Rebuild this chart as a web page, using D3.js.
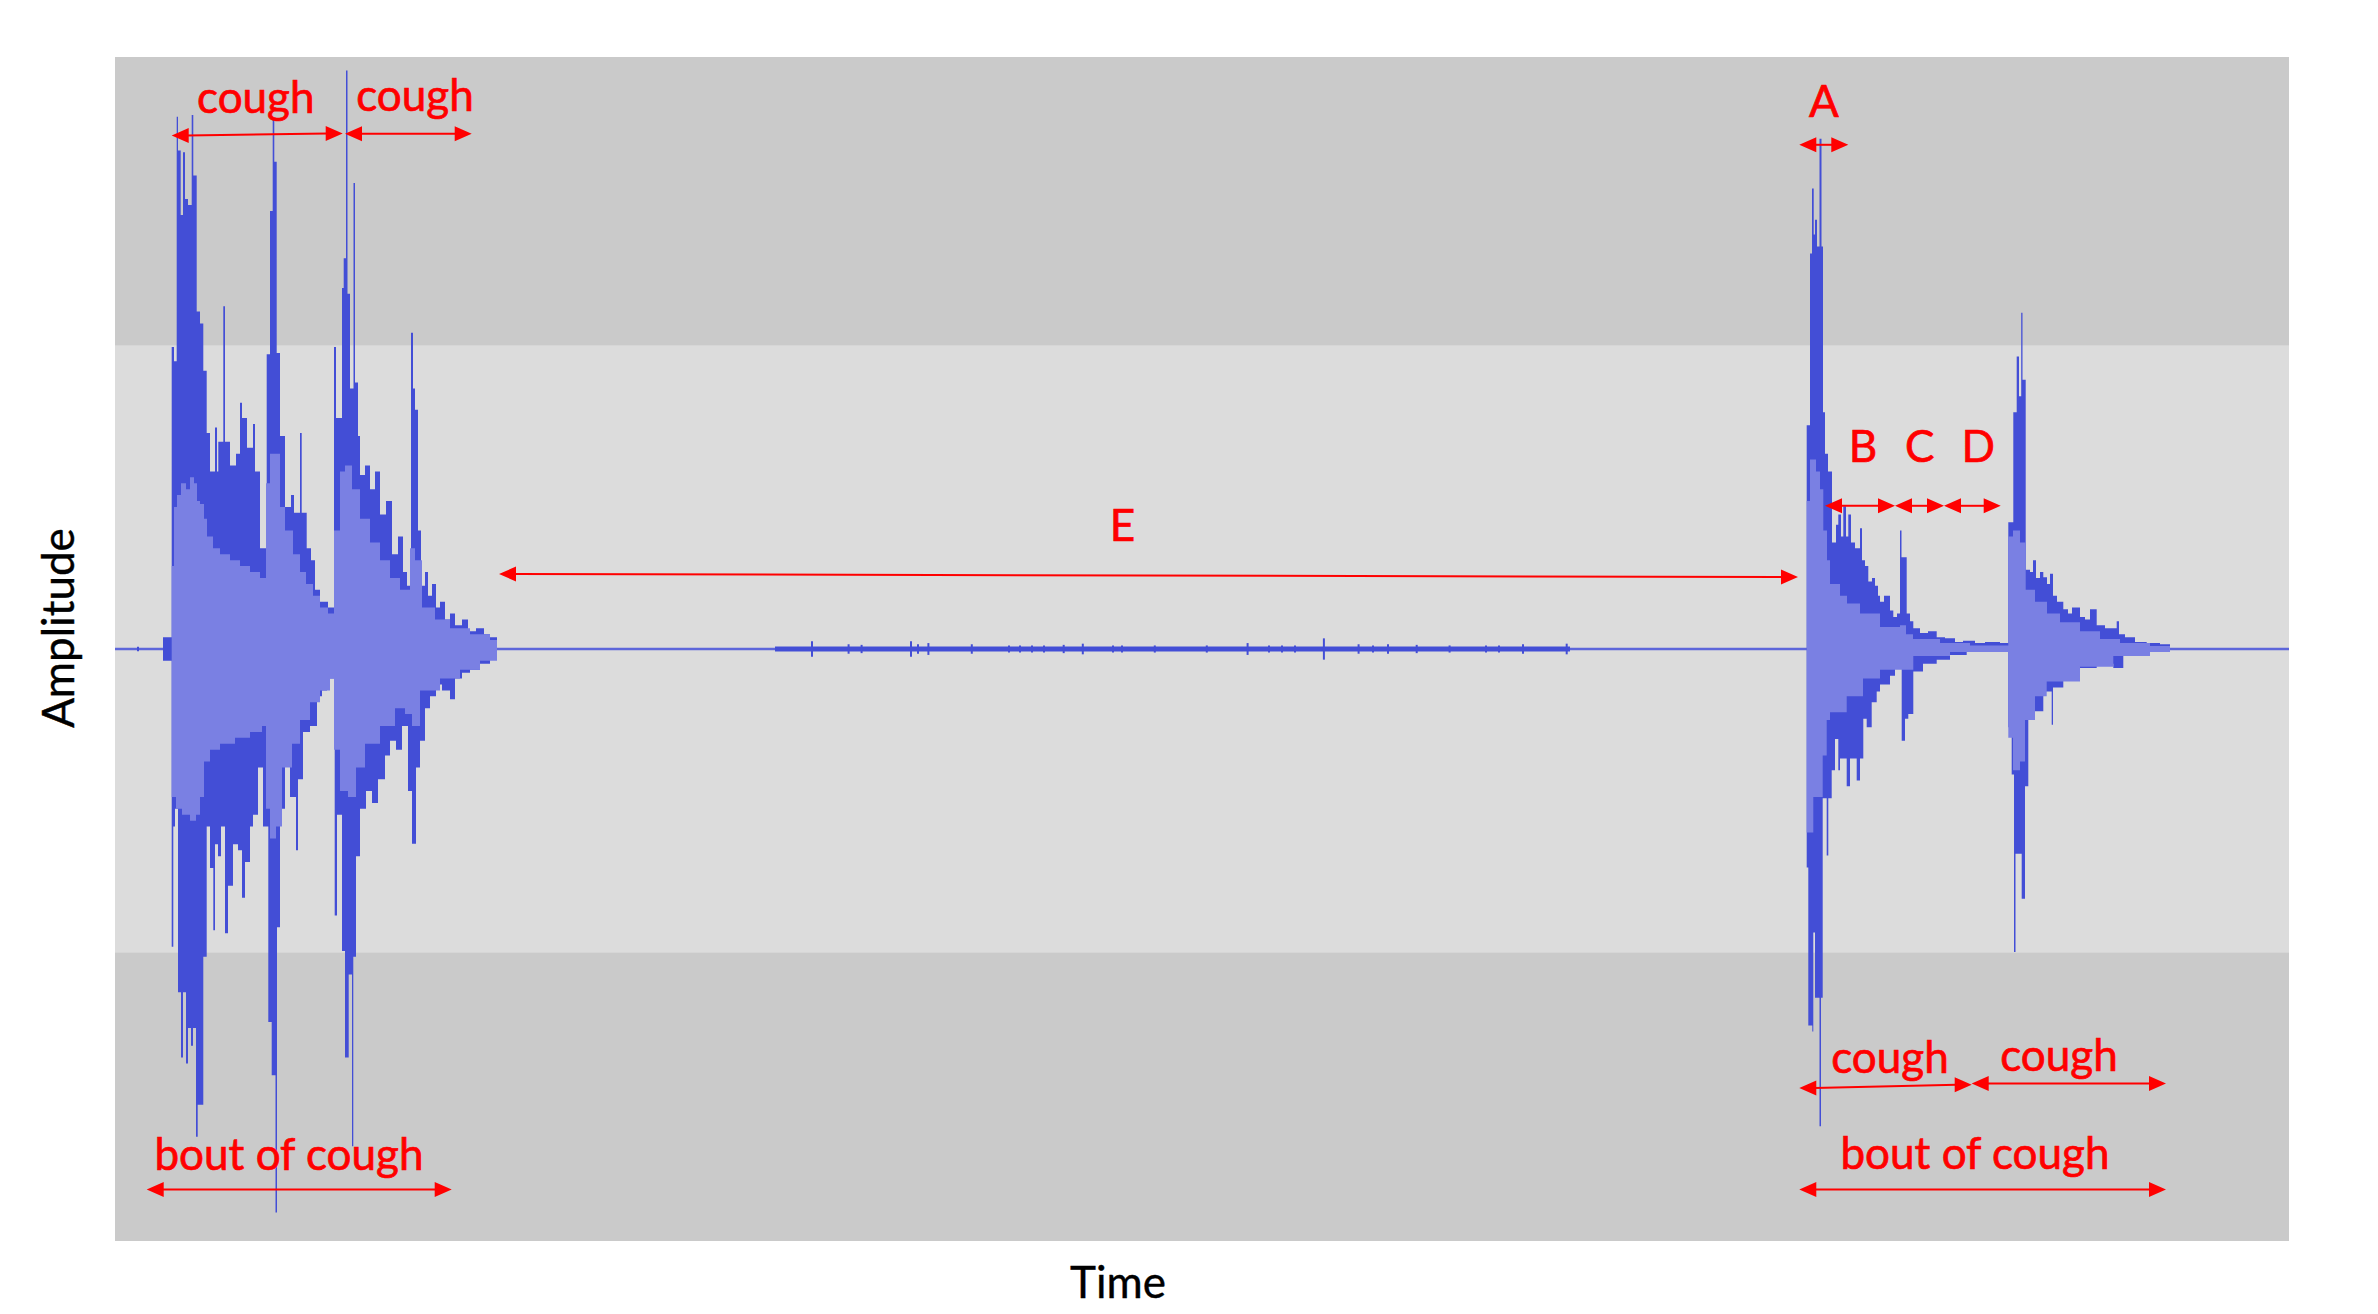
<!DOCTYPE html>
<html>
<head>
<meta charset="utf-8">
<script src="https://cdn.jsdelivr.net/npm/d3@7"></script>
<style>
  body { margin: 0; background: #fff; }
  svg { display: block; }
  text { font-family: Lato, "Open Sans", sans-serif; }
</style>
</head>
<body>
<div id="mainChart"></div>
<script>
// time in ms, amplitude normalised to [-1, 1]
const bandLevels = [-0.513, 0.513];
const baselineSpan = [0, 21740];
const noiseSpan = [6600, 14550];
const noiseLevel = 0.0042;

// outer (peak) envelope, [ms, amplitude], step-after
const boutOnePeakHi = [
  [480,0.02],[567,0.51],[590,0.486],[617,0.899],[630,0.842],[657,0.733],[680,0.839],[700,0.76],[730,0.75],
  [767,0.902],[783,0.80],[817,0.57],[850,0.55],[883,0.47],[917,0.365],[950,0.30],[1000,0.374],[1020,0.30],
  [1033,0.35],[1083,0.579],[1100,0.35],[1150,0.31],[1210,0.33],[1250,0.416],[1270,0.39],[1320,0.34],
  [1380,0.38],[1400,0.30],[1450,0.17],[1517,0.498],[1550,0.74],[1577,0.895],[1593,0.823],[1617,0.50],
  [1650,0.36],[1700,0.24],[1760,0.26],[1790,0.23],[1850,0.365],[1867,0.23],[1917,0.17],[1960,0.15],
  [2000,0.10],[2050,0.08],[2130,0.07],[2190,0.51],[2210,0.39],[2270,0.61],[2287,0.66],[2310,0.977],
  [2325,0.6],[2350,0.44],[2385,0.787],[2400,0.45],[2430,0.36],[2450,0.294],[2500,0.31],[2550,0.27],
  [2600,0.30],[2650,0.227],[2710,0.25],[2770,0.16],[2830,0.19],[2880,0.13],[2920,0.107],[2960,0.534],
  [2980,0.44],[3000,0.404],[3030,0.20],[3060,0.107],[3100,0.13],[3130,0.09],[3170,0.11],[3210,0.07],
  [3250,0.08],[3300,0.05],[3350,0.06],[3400,0.04],[3470,0.05],[3530,0.03],[3610,0.035],[3690,0.025],
  [3750,0.02],[3820,0]
];
const boutOnePeakLo = [
  [480,0.02],[567,0.503],[583,0.30],[600,0.27],[630,0.58],[660,0.69],[680,0.58],[710,0.70],[730,0.64],
  [760,0.67],[780,0.64],[810,0.824],[827,0.77],[883,0.52],[917,0.30],[950,0.37],[983,0.475],[1000,0.33],
  [1030,0.35],[1060,0.30],[1100,0.48],[1130,0.40],[1180,0.33],[1230,0.34],[1270,0.42],[1300,0.36],
  [1350,0.30],[1380,0.28],[1430,0.20],[1480,0.30],[1533,0.63],[1567,0.72],[1605,0.952],[1620,0.47],
  [1650,0.27],[1700,0.18],[1750,0.25],[1810,0.34],[1830,0.22],[1880,0.14],[1950,0.13],[2020,0.08],
  [2070,0.07],[2120,0.05],[2197,0.45],[2220,0.28],[2270,0.51],[2300,0.69],[2337,0.55],[2370,0.84],
  [2383,0.52],[2410,0.35],[2450,0.27],[2510,0.24],[2570,0.26],[2630,0.22],[2700,0.18],[2750,0.155],
  [2810,0.17],[2870,0.13],[2930,0.24],[2970,0.329],[3010,0.20],[3050,0.155],[3100,0.10],[3150,0.08],
  [3210,0.06],[3270,0.07],[3350,0.085],[3400,0.05],[3470,0.04],[3550,0.035],[3650,0.025],[3750,0.015],
  [3820,0]
];
const boutTwoPeakHi = [
  [16917,0.378],[16950,0.668],[16970,0.778],[16987,0.70],[17000,0.725],[17020,0.68],[17045,0.862],
  [17065,0.68],[17080,0.40],[17100,0.33],[17130,0.30],[17170,0.18],[17210,0.21],[17233,0.227],
  [17260,0.19],[17283,0.241],[17310,0.19],[17333,0.227],[17360,0.18],[17400,0.17],[17450,0.204],
  [17470,0.15],[17500,0.14],[17533,0.114],[17570,0.12],[17600,0.107],[17630,0.09],[17650,0.08],
  [17690,0.09],[17750,0.065],[17783,0.054],[17820,0.06],[17850,0.20],[17865,0.155],[17917,0.06],
  [17950,0.047],[17983,0.035],[18050,0.027],[18130,0.03],[18217,0.02],[18300,0.018],[18400,0.012],
  [18480,0.014],[18600,0.01],[18700,0.012],[18850,0.01],[18933,0.214],[18983,0.40],[19017,0.494],
  [19040,0.427],[19062,0.568],[19075,0.455],[19107,0.134],[19150,0.13],[19180,0.15],[19210,0.12],
  [19250,0.13],[19283,0.121],[19320,0.11],[19350,0.127],[19380,0.09],[19420,0.08],[19483,0.067],
  [19530,0.06],[19570,0.07],[19650,0.054],[19700,0.05],[19750,0.067],[19817,0.04],[19900,0.035],
  [20017,0.047],[20040,0.025],[20100,0.02],[20200,0.012],[20317,0.01],[20450,0.008],[20550,0]
];
const boutTwoPeakLo = [
  [16917,0.369],[16933,0.636],[16973,0.646],[16983,0.479],[17000,0.589],[17045,0.806],[17060,0.589],
  [17077,0.252],[17117,0.349],[17133,0.252],[17167,0.205],[17200,0.152],[17233,0.205],[17250,0.185],
  [17317,0.232],[17350,0.185],[17417,0.222],[17450,0.185],[17483,0.118],[17517,0.132],[17567,0.09],
  [17617,0.072],[17650,0.06],[17750,0.045],[17800,0.032],[17867,0.155],[17900,0.118],[17933,0.11],
  [17983,0.038],[18080,0.025],[18217,0.018],[18350,0.01],[18517,0.005],[18933,0.132],[18967,0.212],
  [18990,0.512],[19005,0.346],[19067,0.422],[19100,0.232],[19133,0.118],[19200,0.105],[19283,0.072],
  [19367,0.128],[19380,0.065],[19483,0.052],[19550,0.045],[19650,0.032],[19817,0.025],[19983,0.032],
  [20083,0.012],[20317,0.005],[20550,0]
];

// inner (rms) envelope
const boutOneRmsHi = [
  [567,0.14],[590,0.24],[620,0.26],[660,0.28],[710,0.27],[750,0.29],[790,0.28],[820,0.25],[850,0.245],
  [890,0.22],[920,0.19],[980,0.17],[1050,0.16],[1150,0.15],[1250,0.14],[1350,0.13],[1450,0.12],
  [1510,0.28],[1550,0.33],[1650,0.24],[1700,0.20],[1780,0.16],[1850,0.13],[1910,0.11],[1980,0.09],
  [2050,0.07],[2130,0.06],[2190,0.20],[2250,0.30],[2300,0.31],[2370,0.27],[2450,0.22],[2550,0.18],
  [2650,0.15],[2750,0.12],[2850,0.10],[2950,0.17],[3000,0.15],[3070,0.07],[3200,0.05],[3350,0.035],
  [3550,0.025],[3750,0.015],[3820,0]
];
const boutOneRmsLo = [
  [567,0.25],[610,0.27],[670,0.28],[750,0.29],[810,0.28],[850,0.25],[890,0.19],[950,0.17],[1050,0.16],
  [1200,0.15],[1350,0.14],[1470,0.13],[1510,0.27],[1550,0.32],[1610,0.30],[1670,0.20],[1770,0.16],
  [1850,0.12],[1950,0.09],[2050,0.07],[2150,0.05],[2190,0.17],[2250,0.24],[2330,0.25],[2410,0.20],
  [2500,0.16],[2650,0.13],[2800,0.10],[2900,0.11],[2970,0.13],[3050,0.07],[3250,0.05],[3450,0.035],
  [3650,0.02],[3820,0]
];
const boutTwoRmsHi = [
  [16917,0.25],[16950,0.32],[17010,0.30],[17050,0.27],[17083,0.20],[17120,0.15],[17150,0.11],
  [17250,0.09],[17320,0.077],[17450,0.06],[17650,0.037],[17850,0.04],[17910,0.025],[17980,0.017],
  [18250,0.01],[18550,0.006],[18933,0.19],[18980,0.20],[19050,0.18],[19107,0.10],[19200,0.08],
  [19320,0.06],[19450,0.045],[19650,0.03],[19850,0.017],[20050,0.01],[20350,0.005],[20550,0]
];
const boutTwoRmsLo = [
  [16917,0.31],[16983,0.25],[17077,0.18],[17117,0.12],[17150,0.107],[17317,0.08],[17480,0.05],
  [17650,0.035],[17983,0.012],[18350,0.005],[18933,0.15],[18980,0.205],[19050,0.19],[19100,0.12],
  [19200,0.08],[19317,0.055],[19650,0.03],[19983,0.012],[20350,0.005],[20550,0]
];

// short clicks on the quiet part, [ms, amplitude]
const noiseTicks = [
  [230,0.004],[6970,0.013],[7336,0.008],[7466,0.007],[7960,0.013],[8030,0.008],[8134,0.010],[8568,0.008],
  [8940,0.006],[9050,0.006],[9170,0.006],[9290,0.006],[9487,0.007],[9678,0.009],[9980,0.006],
  [10070,0.006],[10398,0.006],[10918,0.006],[11326,0.010],[11540,0.006],[11670,0.006],[11800,0.006],
  [12089,0.018],[12436,0.008],[12580,0.006],[12730,0.008],[13017,0.007],[13346,0.006],[13710,0.006],
  [13840,0.006],[14080,0.008],[14517,0.009]
];

// annotation spans: [start ms, level, end ms, level]
const spanArrows = [
  [567,0.8676,2277,0.8706],
  [2300,0.8704,3567,0.8704],
  [317,-0.9132,3367,-0.9132],
  [16843,0.8517,17333,0.8517],
  [17100,0.2419,17800,0.2419],
  [17800,0.2419,18290,0.2419],
  [18290,0.2419,18857,0.2419],
  [3840,0.1267,16830,0.1216],
  [16843,-0.7416,18567,-0.7361],
  [18567,-0.7341,20510,-0.7341],
  [16843,-0.9132,20510,-0.9132]
];
const labelText = ['cough','cough','bout of cough','A','B','C','D','E','cough','cough','bout of cough'];
const labelTime = [1408,3000,1740,17090,17480,18047,18633,10075,17750,19440,18600];
const labelLevel = [0.9054,0.9088,-0.880,0.8986,0.3154,0.3154,0.3154,0.1829,-0.7162,-0.7128,-0.8779];

const CHART_SIZE = { width: 2378, height: 1314 };
const MARGIN = { top: 57, right: 89, bottom: 73, left: 115 };
const DARK = '#434ed6';
const LIGHT = '#7a80e3';
const RED = '#ff0000';

const x = d3.scaleLinear()
  .domain(baselineSpan)
  .range([MARGIN.left, CHART_SIZE.width - MARGIN.right]);
const y = d3.scaleLinear()
  .domain([-1, 1])
  .range([CHART_SIZE.height - MARGIN.bottom, MARGIN.top]);

const svg = d3.select('#mainChart')
  .append('svg')
  .attr('width', CHART_SIZE.width)
  .attr('height', CHART_SIZE.height);

// background bands
svg.append('rect')
  .attr('x', x(baselineSpan[0]))
  .attr('y', y(1))
  .attr('width', x(baselineSpan[1]) - x(baselineSpan[0]))
  .attr('height', y(-1) - y(1))
  .attr('fill', '#cacaca');
svg.append('rect')
  .attr('x', x(baselineSpan[0]))
  .attr('y', y(bandLevels[1]))
  .attr('width', x(baselineSpan[1]) - x(baselineSpan[0]))
  .attr('height', y(bandLevels[0]) - y(bandLevels[1]))
  .attr('fill', '#dcdcdc');

const wave = svg.append('g');

wave.append('line')
  .attr('x1', x(baselineSpan[0])).attr('x2', x(baselineSpan[1]))
  .attr('y1', y(0)).attr('y2', y(0))
  .attr('stroke', '#5d66da')
  .attr('stroke-width', 2.6);

wave.append('rect')
  .attr('x', x(noiseSpan[0]))
  .attr('y', y(noiseLevel))
  .attr('width', x(noiseSpan[1]) - x(noiseSpan[0]))
  .attr('height', y(-noiseLevel) - y(noiseLevel))
  .attr('fill', DARK);

wave.selectAll('line.tick')
  .data(noiseTicks)
  .join('line')
  .attr('class', 'tick')
  .attr('x1', d => x(d[0])).attr('x2', d => x(d[0]))
  .attr('y1', d => y(d[1])).attr('y2', d => y(-d[1]))
  .attr('stroke', DARK)
  .attr('stroke-width', 2);

const areaHi = d3.area()
  .curve(d3.curveStepAfter)
  .x(d => x(d[0]))
  .y0(y(0))
  .y1(d => y(d[1]));
const areaLo = d3.area()
  .curve(d3.curveStepAfter)
  .x(d => x(d[0]))
  .y0(y(0))
  .y1(d => y(-d[1]));

[boutOnePeakHi, boutTwoPeakHi].forEach(s => {
  wave.append('path').attr('d', areaHi(s)).attr('fill', DARK);
});
[boutOnePeakLo, boutTwoPeakLo].forEach(s => {
  wave.append('path').attr('d', areaLo(s)).attr('fill', DARK);
});
[boutOneRmsHi, boutTwoRmsHi].forEach(s => {
  wave.append('path').attr('d', areaHi(s)).attr('fill', LIGHT);
});
[boutOneRmsLo, boutTwoRmsLo].forEach(s => {
  wave.append('path').attr('d', areaLo(s)).attr('fill', LIGHT);
});

// double headed arrows
const HEAD_LEN = 17, HEAD_HALF = 7.5;
const notes = svg.append('g');
spanArrows.forEach(a => {
  const x1 = x(a[0]), y1 = y(a[1]), x2 = x(a[2]), y2 = y(a[3]);
  notes.append('line')
    .attr('x1', x1 + HEAD_LEN - 2).attr('y1', y1)
    .attr('x2', x2 - HEAD_LEN + 2).attr('y2', y2)
    .attr('stroke', RED)
    .attr('stroke-width', 2);
  const p = d3.path();
  p.moveTo(x1, y1);
  p.lineTo(x1 + HEAD_LEN, y1 - HEAD_HALF);
  p.lineTo(x1 + HEAD_LEN, y1 + HEAD_HALF);
  p.closePath();
  p.moveTo(x2, y2);
  p.lineTo(x2 - HEAD_LEN, y2 - HEAD_HALF);
  p.lineTo(x2 - HEAD_LEN, y2 + HEAD_HALF);
  p.closePath();
  notes.append('path').attr('d', p.toString()).attr('fill', RED);
});

notes.selectAll('text')
  .data(labelText)
  .join('text')
  .attr('x', (d, i) => x(labelTime[i]))
  .attr('y', (d, i) => y(labelLevel[i]))
  .attr('text-anchor', 'middle')
  .attr('font-size', 44)
  .attr('fill', RED)
  .attr('stroke', RED)
  .attr('stroke-width', 0.7)
  .text(d => d);

// axis titles
svg.append('text')
  .attr('transform', `translate(74, 628) rotate(-90)`)
  .attr('text-anchor', 'middle')
  .attr('font-size', 44)
  .attr('fill', '#000')
  .attr('stroke', '#000')
  .attr('stroke-width', 0.4)
  .text('Amplitude');
svg.append('text')
  .attr('x', 1118)
  .attr('y', 1298)
  .attr('text-anchor', 'middle')
  .attr('font-size', 44)
  .attr('fill', '#000')
  .attr('stroke', '#000')
  .attr('stroke-width', 0.4)
  .text('Time');
</script>
</body>
</html>
